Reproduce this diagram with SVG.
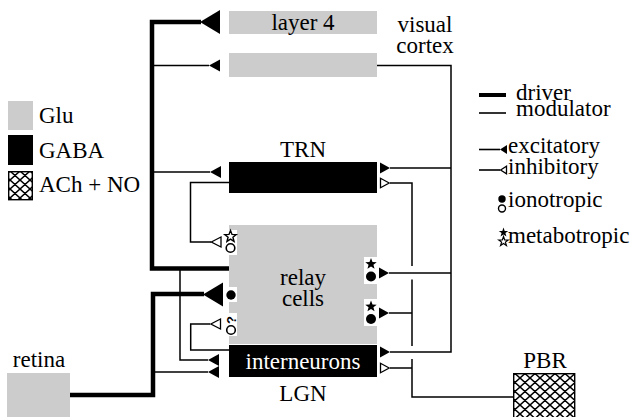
<svg xmlns="http://www.w3.org/2000/svg" xmlns:xlink="http://www.w3.org/1999/xlink" width="643" height="417" viewBox="0 0 643 417">
<style>
.g{fill:#cccccc}
.k{fill:#000}
.w{fill:#fff}
.thin{fill:none;stroke:#000;stroke-width:1.5}
.thick{fill:none;stroke:#000;stroke-width:4.5}
.fa{fill:#000}
.oa{fill:#fff;stroke:#000;stroke-width:1.3}
text{font-family:"Liberation Serif","Times New Roman",serif;font-size:23px}
</style>
<defs>
<pattern id="hatch" width="10" height="9" patternUnits="userSpaceOnUse">
<rect width="10" height="9" fill="#fff"/>
<path d="M0,0 L10,9 M10,0 L0,9 M-1,8 L1,10 M9,-1 L11,1 M-1,1 L1,-1 M9,10 L11,8" stroke="#000" stroke-width="1.5"/>
</pattern>
<path id="bigL" d="M0,0 L20,-12 L20,12 Z"/>
<path id="smL" d="M0,0 L11,-6 L11,6 Z"/>
<path id="smLo" d="M0.8,0 L10.5,-5 L10.5,5 Z"/>
<path id="smR" d="M0,0 L-10,-5.5 L-10,5.5 Z"/>
<path id="smRo" d="M-0.8,0 L-9.5,-4.7 L-9.5,4.7 Z"/>
<path id="legL" d="M0,0 L7,-4.5 L7,4.5 Z"/>
<path id="legLo" d="M0.6,0 L6.5,-3.8 L6.5,3.8 Z"/>
<path id="star" d="M0,-6 L1.5,-2.06 L5.71,-1.85 L2.43,0.79 L3.53,4.85 L0,2.55 L-3.53,4.85 L-2.43,0.79 L-5.71,-1.85 L-1.5,-2.06 Z"/>
<path id="starS" d="M0,-5 L1.176,-1.618 L4.755,-1.545 L1.902,0.618 L2.939,4.045 L0,2 L-2.939,4.045 L-1.902,0.618 L-4.755,-1.545 L-1.176,-1.618 Z"/>
</defs>

<g id="legend-transmitters">
<rect class="g" x="8" y="101" width="25" height="29"/>
<text x="39" y="123">Glu</text>
<rect class="k" x="8" y="135" width="25" height="30"/>
<text x="39" y="158">GABA</text>
<rect x="8.7" y="171.7" width="23.6" height="28" fill="url(#hatch)" stroke="#000" stroke-width="1.4"/>
<text x="39" y="192">ACh + NO</text>
</g>

<g id="legend-synapses">
<line x1="479" y1="95" x2="506" y2="95" stroke="#000" stroke-width="4"/>
<text x="516" y="100">driver</text>
<line x1="479" y1="113" x2="506" y2="113" stroke="#000" stroke-width="1.6"/>
<text x="516" y="116">modulator</text>
<line x1="479" y1="149.5" x2="500" y2="149.5" stroke="#000" stroke-width="1.6"/>
<use xlink:href="#legL" x="500" y="149.5" class="fa"/>
<text x="508" y="153">excitatory</text>
<line x1="479" y1="170" x2="500" y2="170" stroke="#000" stroke-width="1.6"/>
<use xlink:href="#legLo" x="500" y="170" class="oa"/>
<text x="508" y="174">inhibitory</text>
<circle cx="502" cy="199" r="3.7" class="fa"/>
<circle cx="502" cy="208.5" r="3.5" fill="#fff" stroke="#000" stroke-width="1.4"/>
<text x="508" y="207">ionotropic</text>
<use xlink:href="#starS" x="503.5" y="232.5" class="fa"/>
<use xlink:href="#starS" x="503.5" y="241.5" fill="#fff" stroke="#000" stroke-width="1.2"/>
<text x="508" y="243">metabotropic</text>
</g>

<g id="layer4">
<rect class="g" x="229" y="11" width="148" height="23"/>
<text x="303" y="30" text-anchor="middle">layer 4</text>
</g>
<g id="cortex-other">
<rect class="g" x="229" y="53" width="148" height="24"/>
</g>
<g id="visual-cortex-label">
<text x="425" y="32" text-anchor="middle">visual</text>
<text x="425" y="53" text-anchor="middle">cortex</text>
</g>

<g id="trn">
<text x="303" y="157" text-anchor="middle">TRN</text>
<rect class="k" x="229" y="162" width="148" height="31"/>
</g>

<g id="relay-cells">
<rect class="g" x="229" y="225" width="148" height="119"/>
<text x="303" y="285" text-anchor="middle">relay</text>
<text x="303" y="306" text-anchor="middle">cells</text>
</g>

<g id="interneurons">
<rect class="k" x="229" y="345" width="148" height="32"/>
<text x="303" y="369" text-anchor="middle" fill="#fff">interneurons</text>
</g>
<g id="lgn-label">
<text x="303" y="401" text-anchor="middle">LGN</text>
</g>

<g id="retina">
<text x="39" y="367" text-anchor="middle">retina</text>
<rect class="g" x="7" y="373" width="63" height="44"/>
</g>

<g id="pbr">
<text x="545" y="368" text-anchor="middle">PBR</text>
<rect x="513.7" y="373.7" width="61" height="44" fill="url(#hatch)" stroke="#000" stroke-width="1.4"/>
</g>

<g id="connectors">
<path class="thick" d="M229,268.5 H152 V22 H201"/>
<path class="thick" d="M70,395 H153 V294 H204"/>
<use xlink:href="#bigL" x="200" y="22" class="fa"/>
<use xlink:href="#bigL" x="203" y="294.5" class="fa"/>

<path class="thin" d="M152,65.5 H209"/>
<use xlink:href="#smL" x="209" y="65.5" class="fa"/>
<path class="thin" d="M152,172 H210"/>
<use xlink:href="#smL" x="210" y="172" class="fa"/>
<path class="thin" d="M180,270 V360 H208"/>
<use xlink:href="#smL" x="208" y="360" class="fa"/>

<path class="thin" d="M153,372 H208"/>
<use xlink:href="#smL" x="208" y="372" class="fa"/>

<path class="thin" d="M229,182.5 H190.5 V242 H211"/>
<use xlink:href="#smLo" x="210.5" y="242" class="oa"/>

<path class="thin" d="M229,350 H190.7 V324 H210"/>
<use xlink:href="#smLo" x="210" y="324" class="oa"/>

<path class="thin" d="M377,65.5 H451 V352 H390"/>
<use xlink:href="#smR" x="390" y="352" class="fa"/>
<path class="thin" d="M390,168 H451"/>
<use xlink:href="#smR" x="390" y="168" class="fa"/>
<path class="thin" d="M389,273 H451"/>
<use xlink:href="#smR" x="389" y="273" class="fa"/>

<path class="thin" d="M390,183 H412 V266 M412,279.5 V346 M412,359 V397 H513"/>
<use xlink:href="#smRo" x="390" y="183" class="oa"/>
<path class="thin" d="M389,313 H412"/>
<use xlink:href="#smR" x="389" y="313" class="fa"/>
<path class="thin" d="M390,368 H412"/>
<use xlink:href="#smRo" x="390" y="368" class="oa"/>
</g>

<g id="receptor-symbols">
<rect class="w" x="223" y="230" width="14" height="25"/>
<use xlink:href="#star" x="230.5" y="236.5" fill="#fff" stroke="#000" stroke-width="1.4"/>
<circle cx="230.5" cy="248" r="4.3" fill="#fff" stroke="#000" stroke-width="1.6"/>

<rect class="w" x="223" y="287" width="14" height="15"/>
<circle cx="231" cy="295" r="4.7" class="fa"/>

<rect class="w" x="223" y="313" width="14" height="23"/>
<text transform="translate(231,320) rotate(-90)" x="0" y="4.6" style="font-family:'Liberation Sans',Arial,sans-serif;font-size:13px;font-weight:bold" text-anchor="middle">?</text>
<circle cx="231" cy="330" r="4.3" fill="#fff" stroke="#000" stroke-width="1.6"/>

<rect class="w" x="364" y="257" width="15" height="27"/>
<use xlink:href="#star" x="371" y="264" class="fa"/>
<circle cx="371" cy="276.5" r="5" class="fa"/>

<rect class="w" x="364" y="299" width="15" height="27"/>
<use xlink:href="#star" x="371" y="306.5" class="fa"/>
<circle cx="371" cy="319" r="5" class="fa"/>
</g>
</svg>
